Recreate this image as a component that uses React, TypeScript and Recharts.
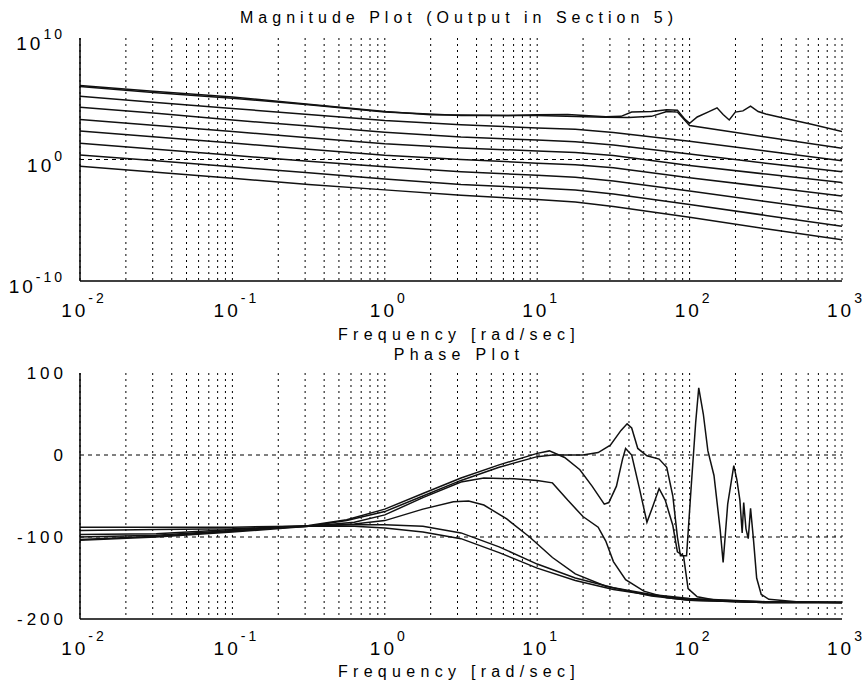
import { LineChart, Line, XAxis, YAxis, CartesianGrid, ReferenceLine } from "recharts"

// frequency positions are log10(rad/sec), magnitude values are log10(|G|)
const magX = [-2, -1.5, -1, -0.5, 0, 0.5, 1, 1.25, 1.5, 2, 2.5, 3]

const mag1X = [-2, -1.5, -1, -0.5, 0, 0.3, 0.5, 0.8, 1, 1.2, 1.45, 1.55, 1.62, 1.75, 1.85, 1.92, 1.97, 2.0, 2.05, 2.12, 2.18, 2.22, 2.26, 2.3, 2.35, 2.4, 2.45, 2.5, 2.6, 2.8, 3]
const mag1 = [6.1, 5.6, 5.15, 4.55, 3.95, 3.68, 3.66, 3.62, 3.68, 3.7, 3.52, 3.55, 3.9, 3.95, 4.1, 4.05, 3.3, 2.98, 3.5, 3.9, 4.25, 3.7, 3.25, 3.9, 4.0, 4.4, 3.95, 3.75, 3.45, 2.9, 2.3]
const mag2X = [-2, -1.5, -1, -0.5, 0, 0.5, 1, 1.45, 1.6, 1.75, 1.85, 1.92, 2.0, 2.5, 3]
const mag2 = [6.0, 5.5, 5.05, 4.5, 3.9, 3.62, 3.62, 3.48, 3.45, 3.55, 3.95, 3.9, 2.8, 1.85, 0.93]
const mag3 = [5.2, 4.7, 4.2, 3.7, 3.2, 2.85, 2.6, 2.48, 2.22, 1.5, 0.7, -0.1]
const mag4 = [4.3, 3.8, 3.25, 2.75, 2.25, 1.85, 1.6, 1.47, 1.2, 0.45, -0.3, -1.0]
const mag5 = [3.3, 2.8, 2.3, 1.8, 1.3, 0.95, 0.7, 0.57, 0.33, -0.5, -1.2, -1.9]
const mag6 = [2.35, 1.85, 1.35, 0.85, 0.35, 0.0, -0.3, -0.44, -0.68, -1.5, -2.25, -3.0]
const mag7 = [1.34, 0.85, 0.35, -0.15, -0.6, -1.0, -1.3, -1.46, -1.76, -2.6, -3.45, -4.3]
const mag8 = [0.38, -0.1, -0.6, -1.1, -1.6, -2.05, -2.35, -2.52, -2.84, -3.7, -4.6, -5.5]
const mag9 = [-0.55, -1.05, -1.55, -2.05, -2.5, -2.95, -3.3, -3.5, -3.87, -4.75, -5.7, -6.6]

// phase in degrees
const phaseABX = [-2, -1.5, -1, -0.6, -0.2, 0, 0.25, 0.5, 0.75, 1, 1.25, 1.5, 1.75, 2, 2.5, 3]
const phaseA = [-88, -88, -88, -87, -87, -89, -94, -102, -119, -138, -153, -164, -171, -176, -179, -180]
const phaseB = [-92, -91, -90, -87, -85, -85, -87, -95, -112, -133, -150, -162, -170, -175, -179, -180]
const phaseCX = [-2, -1.5, -1, -0.5, -0.2, 0, 0.25, 0.45, 0.55, 0.65, 0.8, 0.95, 1.1, 1.25, 1.45, 1.75, 2, 2.5, 3]
const phaseC = [-97, -96, -91, -87, -84, -80, -66, -57, -56, -61, -78, -100, -125, -145, -160, -172, -177, -180, -180]
const phaseDX = [-2, -1.5, -1, -0.5, -0.2, 0, 0.25, 0.5, 0.65, 0.85, 1, 1.1, 1.2, 1.3, 1.4, 1.45, 1.5, 1.58, 1.7, 1.85, 2, 2.5, 3]
const phaseD = [-100, -98, -92, -87, -82, -73, -52, -33, -28, -29, -31, -34, -55, -75, -88, -105, -130, -152, -166, -174, -177, -180, -180]
const phaseEX = [-2, -1.5, -1, -0.5, -0.25, 0, 0.25, 0.5, 0.75, 1, 1.08, 1.18, 1.28, 1.36, 1.44, 1.47, 1.52, 1.56, 1.58, 1.62, 1.67, 1.72, 1.76, 1.8, 1.84, 1.89, 1.92, 1.96, 1.99, 2.05, 2.2, 2.5, 3]
const phaseE = [-103, -99, -93, -86, -79, -66, -47, -28, -12, 2, 5, -3, -18, -38, -60, -58, -38, -5, 8, 0, -40, -82, -62, -41, -55, -86, -118, -123, -163, -173, -178, -180, -180]
const phaseFX = [-2, -1.5, -1, -0.5, -0.25, 0, 0.25, 0.5, 0.75, 1, 1.1, 1.2, 1.3, 1.4, 1.48, 1.55, 1.59, 1.62, 1.66, 1.72, 1.8, 1.85, 1.89, 1.92, 1.94, 1.98, 2.01, 2.04, 2.06, 2.09, 2.12, 2.16, 2.2, 2.22, 2.25, 2.29, 2.31, 2.33, 2.345, 2.355, 2.37, 2.385, 2.4, 2.42, 2.44, 2.47, 2.52, 2.7, 3]
const phaseF = [-104, -100, -94, -87, -80, -69, -50, -31, -15, -2, 0, 0, 0, 3, 12, 30, 38, 33, 8, -1, -5, -15, -50, -100, -123, -123, -40, 40, 82, 50, 5, -25, -90, -131, -60, -13, -30, -55, -95, -58, -90, -102, -65, -105, -150, -170, -176, -179, -180]

const decadeTicks = [-2, -1, 0, 1, 2, 3]
const magTicks = [-10, 0, 10]
const phaseTicks = [-200, -100, 0, 100]

// dotted grid at every 1..9 x 10^k
const gridTicks = decadeTicks.flatMap((d) =>
  d === 3 ? [3] : [1, 2, 3, 4, 5, 6, 7, 8, 9].map((m) => d + Math.log10(m))
)

const pts = (xs: number[], ys: number[]) => xs.map((x, i) => ({ x, y: ys[i] }))

const magSeries = [
  pts(mag1X, mag1),
  pts(mag2X, mag2),
  pts(magX, mag3),
  pts(magX, mag4),
  pts(magX, mag5),
  pts(magX, mag6),
  pts(magX, mag7),
  pts(magX, mag8),
  pts(magX, mag9),
]

const phaseSeries = [
  pts(phaseABX, phaseA),
  pts(phaseABX, phaseB),
  pts(phaseCX, phaseC),
  pts(phaseDX, phaseD),
  pts(phaseEX, phaseE),
  pts(phaseFX, phaseF),
]

const FONT = '"Liberation Sans", Arial, sans-serif'

function FreqTick(props: any) {
  const { x, y, payload } = props
  const v = payload.value
  if (Math.abs(v - Math.round(v)) > 1e-6) return <g />
  return (
    <text x={x + 4} y={y + 36} textAnchor="middle" fontFamily={FONT} fontSize={19} fill="#000" style={{ letterSpacing: 3 }}>
      10
      <tspan fontSize={14} dy={-14}>{Math.round(v)}</tspan>
    </text>
  )
}

function MagTick(props: any) {
  const { x, y, payload } = props
  return (
    <text x={x - 15} y={y + 12} textAnchor="end" fontFamily={FONT} fontSize={19} fill="#000" style={{ letterSpacing: 3 }}>
      10
      <tspan fontSize={14} dy={-11}>{payload.value}</tspan>
    </text>
  )
}

function PhaseTick(props: any) {
  const { x, y, payload } = props
  return (
    <text x={x - 13} y={y + 6} textAnchor="end" fontFamily={FONT} fontSize={17} fill="#000" style={{ letterSpacing: 4 }}>
      {payload.value}
    </text>
  )
}

const labelStyle = {
  position: "absolute" as const,
  left: 159,
  width: 600,
  textAlign: "center" as const,
  fontFamily: FONT,
  fontSize: 16,
  lineHeight: "20px",
  letterSpacing: "5.3px",
  color: "#000",
}

function Panel({ series, yDomain, yTicks, tick, zeroLines, top, height, marginTop, axisHeight }: any) {
  return (
    <div style={{ position: "absolute", left: 0, top }}>
      <LineChart width={864} height={height} margin={{ top: marginTop, right: 22, bottom: 0, left: 0 }}>
        <CartesianGrid horizontal={false} vertical stroke="#000" strokeWidth={1} strokeDasharray="2 4" />
        <XAxis
          type="number"
          dataKey="x"
          domain={[-2, 3]}
          ticks={gridTicks}
          interval={0}
          allowDataOverflow
          height={axisHeight}
          tickSize={0}
          tickMargin={0}
          tickLine={false}
          axisLine={{ stroke: "#000", strokeWidth: 1.5 }}
          tick={<FreqTick />}
        />
        <XAxis xAxisId="top" orientation="top" type="number" domain={[-2, 3]} height={0} tick={false} tickLine={false} axisLine={{ stroke: "#000", strokeWidth: 1.5 }} />
        <YAxis
          type="number"
          domain={yDomain}
          ticks={yTicks}
          interval={0}
          allowDataOverflow
          width={80}
          tickSize={0}
          tickMargin={0}
          tickLine={false}
          axisLine={{ stroke: "#000", strokeWidth: 1.5 }}
          tick={tick}
        />
        <YAxis yAxisId="right" orientation="right" type="number" domain={yDomain} width={0} tick={false} tickLine={false} axisLine={{ stroke: "#000", strokeWidth: 1.5 }} />
        {zeroLines.map((v: number) => (
          <ReferenceLine key={v} y={v} stroke="#000" strokeWidth={1} strokeDasharray="4 4" />
        ))}
        {series.map((d: any, i: number) => (
          <Line
            key={i}
            data={d}
            dataKey="y"
            type="linear"
            stroke="#111"
            strokeWidth={1.5}
            dot={false}
            activeDot={false}
            isAnimationActive={false}
          />
        ))}
      </LineChart>
    </div>
  )
}

export default function App() {
  return (
    <div style={{ position: "absolute", left: 0, top: 0, width: 864, height: 687, background: "#fff", overflow: "hidden" }}>
      <Panel
        series={magSeries}
        yDomain={[-10, 10]}
        yTicks={magTicks}
        tick={<MagTick />}
        zeroLines={[0]}
        top={0}
        height={330}
        marginTop={38}
        axisHeight={49}
      />
      <Panel
        series={phaseSeries}
        yDomain={[-200, 100]}
        yTicks={phaseTicks}
        tick={<PhaseTick />}
        zeroLines={[0, -100]}
        top={340}
        height={347}
        marginTop={33}
        axisHeight={68}
      />
      <div style={{ ...labelStyle, top: 8, letterSpacing: "5px" }}>Magnitude Plot (Output in Section 5)</div>
      <div style={{ ...labelStyle, top: 325 }}>Frequency [rad/sec]</div>
      <div style={{ ...labelStyle, top: 345 }}>Phase Plot</div>
      <div style={{ ...labelStyle, top: 662 }}>Frequency [rad/sec]</div>
    </div>
  )
}
